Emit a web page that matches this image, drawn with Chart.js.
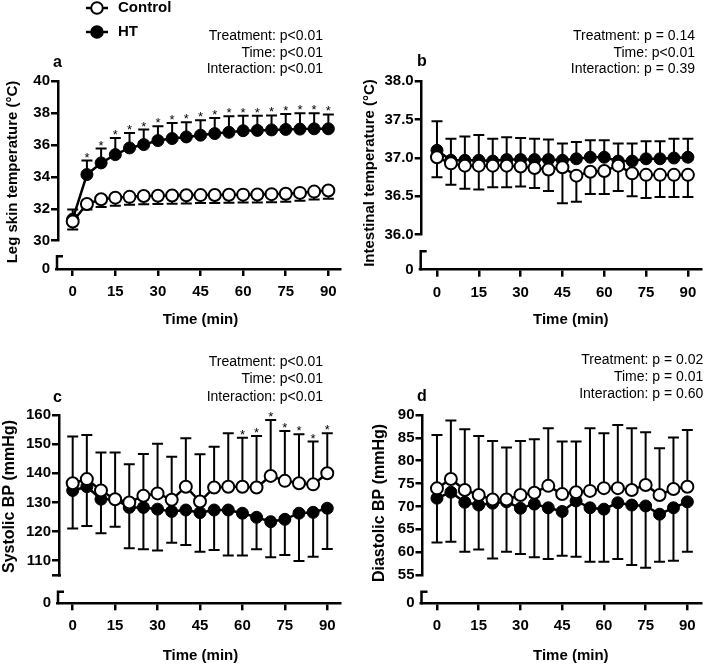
<!DOCTYPE html>
<html lang="en">
<head>
  <meta charset="UTF-8">
  <title>Temperature and blood pressure | Control vs HT</title>
  <script src="https://cdn.jsdelivr.net/npm/chart.js"></script>
  <style>
    html, body { margin: 0; padding: 0; background: #fff; }
    #wrap { position: relative; width: 709px; height: 666px; }
    canvas { position: absolute; }
  </style>
</head>
<body>
  <div id="wrap">
    <canvas id="chartA" width="350" height="335" style="left:0;top:0"></canvas>
    <canvas id="chartB" width="359" height="335" style="left:350px;top:0"></canvas>
    <canvas id="chartC" width="350" height="331" style="left:0;top:335px"></canvas>
    <canvas id="chartD" width="359" height="331" style="left:350px;top:335px"></canvas>
  </div>

  <script>
    const times = [0, 5, 10, 15, 20, 25, 30, 35, 40, 45, 50, 55, 60, 65, 70, 75, 80, 85, 90];
    const xTicks = [0, 15, 30, 45, 60, 75, 90];
    const seriesNames = ["Control", "HT"];

    // a - leg skin temperature
    const aTicks = [30, 32, 34, 36, 38, 40];
    const aControl = [31.2, 32.3, 32.6, 32.7, 32.75, 32.8, 32.82, 32.84, 32.85, 32.86, 32.87, 32.88, 32.89, 32.9, 32.92, 32.95, 33.0, 33.08, 33.15];
    const aControlSD = [0.5, 0.35, 0.48, 0.5, 0.5, 0.52, 0.52, 0.52, 0.52, 0.5, 0.5, 0.5, 0.5, 0.5, 0.5, 0.5, 0.5, 0.5, 0.52];
    const aHT = [31.35, 34.15, 34.88, 35.4, 35.82, 36.03, 36.28, 36.41, 36.51, 36.62, 36.72, 36.8, 36.9, 36.92, 36.95, 36.98, 37.0, 37.02, 37.02];
    const aHTSD = [0.6, 0.88, 0.9, 1.05, 0.94, 0.94, 0.9, 0.98, 0.92, 0.93, 0.98, 1.0, 0.94, 0.92, 0.91, 0.97, 1.0, 0.98, 0.9];
    const aStars = [5, 10, 15, 20, 25, 30, 35, 40, 45, 50, 55, 60, 65, 70, 75, 80, 85, 90];
    const aStats = ["Treatment: p<0.01", "Time: p<0.01", "Interaction: p<0.01"];

    // b - intestinal temperature
    const bTicks = [36.0, 36.5, 37.0, 37.5, 38.0];
    const bControl = [37.01, 36.93, 36.9, 36.9, 36.9, 36.9, 36.89, 36.87, 36.85, 36.88, 36.77, 36.82, 36.83, 36.9, 36.8, 36.78, 36.78, 36.78, 36.78];
    const bControlSD = [0.26, 0.28, 0.3, 0.31, 0.28, 0.28, 0.26, 0.26, 0.28, 0.47, 0.34, 0.29, 0.3, 0.33, 0.3, 0.3, 0.29, 0.29, 0.29];
    const bHT = [37.1, 36.97, 36.97, 36.97, 36.96, 36.98, 36.98, 36.98, 36.98, 36.97, 36.99, 37.01, 37.01, 36.96, 36.96, 36.99, 36.99, 37.0, 37.01];
    const bHTSD = [0.38, 0.28, 0.31, 0.33, 0.29, 0.29, 0.28, 0.27, 0.26, 0.22, 0.22, 0.22, 0.22, 0.23, 0.23, 0.23, 0.23, 0.25, 0.24];
    const bStats = ["Treatment: p = 0.14", "Time: p<0.01", "Interaction: p = 0.39"];

    // c - systolic BP
    const cTicks = [110, 120, 130, 140, 150, 160];
    const cControl = [136.6, 138.0, 134.1, 131.1, 130.0, 132.3, 133.1, 130.9, 135.4, 130.3, 135.1, 135.4, 135.4, 135.1, 139.1, 137.4, 136.6, 136.2, 140.0];
    const cControlSD = [16.0, 15.1, 13.0, 16.0, 13.1, 14.3, 17.0, 14.8, 16.6, 16.2, 14.0, 18.3, 16.8, 17.7, 19.2, 17.1, 16.8, 14.7, 13.7];
    const cHT = [134.1, 135.4, 131.1, 131.1, 128.3, 128.3, 127.7, 126.9, 127.4, 126.5, 127.4, 127.4, 126.3, 124.9, 123.4, 124.2, 126.3, 126.6, 128.0];
    const cHTSD = [13.0, 13.5, 11.7, 9.4, 14.0, 14.4, 14.2, 10.7, 12.0, 13.4, 13.7, 15.6, 14.5, 11.0, 12.2, 12.2, 16.4, 15.2, 14.0];
    const cStars = [60, 65, 70, 75, 80, 85, 90];
    const cStats = ["Treatment: p<0.01", "Time: p<0.01", "Interaction: p<0.01"];

    // d - diastolic BP
    const dTicks = [55, 60, 65, 70, 75, 80, 85, 90];
    const dControl = [73.95, 76.0, 73.6, 72.5, 71.5, 71.5, 72.5, 73.0, 74.5, 72.7, 73.1, 73.4, 74.0, 74.0, 73.6, 74.7, 72.5, 73.8, 74.3];
    const dControlSD = [11.65, 12.8, 13.3, 12.9, 12.8, 11.4, 11.8, 11.7, 12.6, 11.5, 11.1, 13.7, 12.0, 13.8, 13.5, 11.5, 10.2, 11.3, 12.4];
    const dHT = [71.8, 73.1, 70.9, 70.3, 70.7, 71.0, 69.6, 70.5, 69.7, 68.9, 71.2, 69.7, 69.4, 70.8, 70.3, 70.1, 68.3, 69.7, 71.0];
    const dHTSD = [9.7, 10.8, 10.8, 9.7, 12.1, 10.9, 10.0, 11.6, 11.2, 9.7, 12.2, 11.8, 11.5, 12.3, 13.1, 13.5, 10.4, 11.6, 10.9];
    const dStats = ["Treatment: p = 0.02", "Time: p = 0.01", "Interaction: p = 0.60"];

    const FONT = "'Liberation Sans', Arial, Helvetica, sans-serif";
    Chart.defaults.font.family = FONT;
    Chart.defaults.color = "#000";

    // error bars, stars, broken axis stub, titles, legend
    const extras = {
      id: "extras",
      beforeDatasetsDraw(chart) {
        const { ctx, scales: { x, y } } = chart;
        ctx.save();
        ctx.strokeStyle = "#000";
        ctx.lineWidth = 2;
        chart.data.datasets.forEach(ds => {
          ds.data.forEach((p, i) => {
            const px = x.getPixelForValue(p.x);
            const y0 = y.getPixelForValue(p.y);
            const y1 = y.getPixelForValue(p.y + ds.errorDir * ds.errorBars[i]);
            ctx.beginPath();
            ctx.moveTo(px, y0); ctx.lineTo(px, y1);
            ctx.moveTo(px - 5.5, y1); ctx.lineTo(px + 5.5, y1);
            ctx.stroke();
          });
        });
        ctx.restore();
      },
      afterDraw(chart, args, o) {
        const { ctx, scales: { x, y, yb } } = chart;
        ctx.save();
        ctx.strokeStyle = "#000";
        ctx.fillStyle = "#000";
        ctx.lineWidth = 2.5;

        // lower stub of the broken y axis
        const ax = y.right - 1;
        const base = yb.getPixelForValue(0);
        ctx.beginPath();
        ctx.moveTo(ax, base);
        ctx.lineTo(ax, base - o.stub);
        ctx.lineTo(ax + 6, base - o.stub);
        ctx.stroke();
        if (o.capBottom) {
          ctx.beginPath();
          ctx.moveTo(ax - 6, y.bottom);
          ctx.lineTo(ax + 3, y.bottom);
          ctx.stroke();
        }

        // significance stars
        if (o.stars) {
          const sd = chart.data.datasets[o.starSeries];
          ctx.font = "13px " + FONT;
          ctx.textAlign = "center";
          ctx.textBaseline = "alphabetic";
          o.stars.forEach(t => {
            const i = times.indexOf(t);
            const p = sd.data[i];
            const top = y.getPixelForValue(p.y + sd.errorDir * sd.errorBars[i]);
            ctx.fillText("*", x.getPixelForValue(t), top + 1);
          });
        }

        ctx.textAlign = "center";
        ctx.textBaseline = "middle";
        ctx.font = "bold 15px " + FONT;
        ctx.fillText("Time (min)", o.xTitle[0], o.xTitle[1]);

        ctx.save();
        ctx.translate(o.yTitle[0], o.yTitle[1]);
        ctx.rotate(-Math.PI / 2);
        ctx.font = "bold " + o.yTitleSize + "px " + FONT;
        ctx.fillText(o.yTitleText, 0, 0);
        ctx.restore();

        ctx.font = "bold 16px " + FONT;
        ctx.fillText(o.letter, o.letterPos[0], o.letterPos[1]);

        ctx.font = "14px " + FONT;
        ctx.textAlign = "right";
        o.stats.forEach((s, i) => ctx.fillText(s, o.statsX, o.statsY[i]));

        if (o.legend) {
          chart.data.datasets.forEach((ds, i) => {
            const ly = o.legend.y[i];
            ctx.lineWidth = 2.5;
            ctx.beginPath();
            ctx.moveTo(o.legend.x0, ly); ctx.lineTo(o.legend.x1, ly);
            ctx.stroke();
            ctx.beginPath();
            ctx.arc((o.legend.x0 + o.legend.x1) / 2, ly, 5.8, 0, Math.PI * 2);
            ctx.fillStyle = ds.pointBackgroundColor;
            ctx.fill();
            ctx.lineWidth = 2;
            ctx.stroke();
            ctx.fillStyle = "#000";
            ctx.font = "bold 15px " + FONT;
            ctx.textAlign = "left";
            ctx.fillText(ds.label, o.legend.tx, ly);
          });
        }
        ctx.restore();
      }
    };

    function series(label, vals, sd, dir, filled) {
      return {
        label: label,
        yAxisID: "y",
        data: times.map((t, i) => ({ x: t, y: vals[i] })),
        errorBars: sd,
        errorDir: dir,
        borderColor: "#000",
        borderWidth: 2.5,
        pointRadius: 6,
        pointBorderWidth: filled ? 1 : 2,
        pointBorderColor: "#000",
        pointBackgroundColor: filled ? "#000" : "#fff",
        tension: 0
      };
    }

    function panel(id, P) {
      const axisFont = { size: 15, weight: "bold" };
      const grid = { drawOnChartArea: false, tickLength: 7, lineWidth: 2.5, color: "#000" };
      const border = { display: true, width: 2.5, color: "#000" };
      new Chart(document.getElementById(id), {
        type: "line",
        data: { datasets: P.datasets },
        options: {
          responsive: false,
          animation: false,
          events: [],
          layout: { padding: { top: P.top, right: P.right, left: 0, bottom: 0 } },
          scales: {
            x: {
              type: "linear", min: P.xMin, max: P.xMax,
              afterBuildTicks: s => { s.ticks = xTicks.map(v => ({ value: v })); },
              afterFit: s => { s.height = P.xh; },
              ticks: { font: axisFont, padding: 7, maxRotation: 0, autoSkip: false },
              grid: grid, border: border
            },
            // left boxes are stacked in reverse order, so the lower piece comes first
            yb: {
              type: "linear", position: "left", stack: "left", stackWeight: P.lowerH,
              min: 0, max: 1,
              afterBuildTicks: s => { s.ticks = [{ value: 0 }]; },
              afterFit: s => { s.width = P.yw; },
              ticks: { font: axisFont, padding: 5 },
              grid: { drawOnChartArea: false, tickLength: 3, lineWidth: 2.5, color: "#000" },
              border: { display: false }
            },
            y: {
              type: "linear", position: "left", stack: "left", stackWeight: P.upperH,
              min: P.yMin, max: P.yMax,
              afterBuildTicks: s => { s.ticks = P.yTicks.map(v => ({ value: v })); },
              afterFit: s => { s.width = P.yw; },
              ticks: { font: axisFont, padding: 1, autoSkip: false,
                       callback: v => P.decimals ? v.toFixed(P.decimals) : v },
              grid: grid, border: border
            }
          },
          plugins: {
            legend: { display: false },
            tooltip: { enabled: false },
            extras: P.extras
          }
        },
        plugins: [extras]
      });
    }

    panel("chartA", {
      datasets: [series(seriesNames[0], aControl, aControlSD, -1, false), series(seriesNames[1], aHT, aHTSD, 1, true)],
      yTicks: aTicks, yMin: 30, yMax: 40,
      top: 81.3, right: 10, yw: 58, upperH: 159.4, lowerH: 28.3, xh: 66, xMin: -5.18, xMax: 94.1,
      extras: {
        stub: 12.7, stars: aStars, starSeries: 1,
        xTitle: [200.5, 320], yTitle: [13, 172], yTitleSize: 15, yTitleText: "Leg skin temperature (°C)",
        letter: "a", letterPos: [57.5, 62.5], stats: aStats, statsX: 323, statsY: [36, 52.7, 69.3],
        legend: { x0: 86, x1: 108, tx: 118, y: [8, 32] }
      }
    });

    panel("chartB", {
      datasets: [series(seriesNames[0], bControl, bControlSD, -1, false), series(seriesNames[1], bHT, bHTSD, 1, true)],
      yTicks: bTicks, yMin: 36, yMax: 38, decimals: 1,
      top: 81.3, right: 2.3, yw: 71.7, upperH: 153.4, lowerH: 35, xh: 65.3, xMin: -5.48, xMax: 94.7,
      extras: {
        stub: 18.4,
        xTitle: [220.8, 320], yTitle: [20, 173], yTitleSize: 15, yTitleText: "Intestinal temperature (°C)",
        letter: "b", letterPos: [72, 61.5], stats: bStats, statsX: 345, statsY: [36, 52.7, 69.3]
      }
    });

    panel("chartC", {
      datasets: [series(seriesNames[0], cControl, cControlSD, 1, false), series(seriesNames[1], cHT, cHTSD, -1, true)],
      yTicks: cTicks, yMin: 105, yMax: 160,
      top: 80, right: 10, yw: 59, upperH: 160.3, lowerH: 28, xh: 62.7, xMin: -4.84, xMax: 94.5,
      extras: {
        stub: 11.6, capBottom: true, stars: cStars, starSeries: 0,
        xTitle: [200.5, 321], yTitle: [9.5, 161.5], yTitleSize: 16, yTitleText: "Systolic BP (mmHg)",
        letter: "c", letterPos: [57.5, 62.5], stats: cStats, statsX: 323, statsY: [26.7, 44.3, 61.7]
      }
    });

    panel("chartD", {
      datasets: [series(seriesNames[0], dControl, dControlSD, 1, false), series(seriesNames[1], dHT, dHTSD, -1, true)],
      yTicks: dTicks, yMin: 55, yMax: 90,
      top: 80, right: 2.3, yw: 72.5, upperH: 160, lowerH: 28.3, xh: 62.7, xMin: -5.2, xMax: 94.9,
      extras: {
        stub: 11.6,
        xTitle: [220.8, 321], yTitle: [30, 168], yTitleSize: 16, yTitleText: "Diastolic BP (mmHg)",
        letter: "d", letterPos: [72, 62], stats: dStats, statsX: 353.3, statsY: [25, 42.3, 59.3]
      }
    });
  </script>
</body>
</html>
